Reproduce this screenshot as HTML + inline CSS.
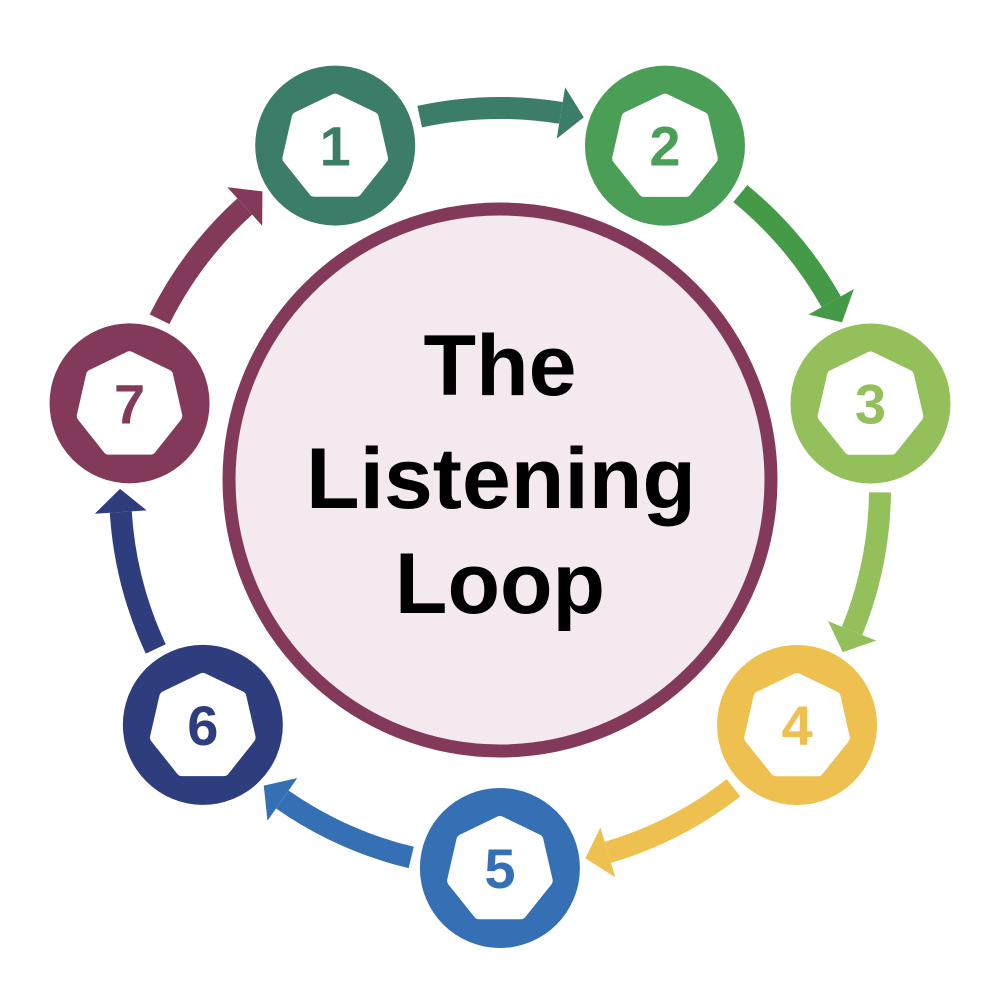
<!DOCTYPE html>
<html><head><meta charset="utf-8"><style>html,body{margin:0;padding:0;background:#fff}svg{display:block}</style></head>
<body>
<svg id="s" width="1000" height="1000" viewBox="0 0 1000 1000" xmlns="http://www.w3.org/2000/svg">
<circle cx="500" cy="480" r="271" fill="#f3e9ef" stroke="#833a5a" stroke-width="13"/>
<g font-family="Liberation Sans, sans-serif" font-weight="bold" font-size="86" text-anchor="middle" fill="#000">
<text x="500" y="395">The</text>
<text x="501" y="508" textLength="390" lengthAdjust="spacingAndGlyphs">Listening</text>
<text x="500" y="613">Loop</text>
</g>
<g id="g"></g>
</svg>
<script>
const cols=["#3b7d69","#4a9e55","#93c05a","#eec050","#3570b5","#2e3d7e","#833a5a"];
const arr=["#3b7d69","#449a47","#93c05a","#eec050","#3570b5","#2e3d7e","#833a5a"];
const cx=500,cy=488,R=380,g=document.getElementById('g');
const rad=d=>d*Math.PI/180;
const P=(a,r)=>[cx+r*Math.cos(rad(a)),cy+r*Math.sin(rad(a))];
let h='';
for(let k=0;k<7;k++){
 const a=-115.7+k*360/7;
 const a0=a+13.5,a1=a+360/7-16.5,at=a+360/7-13;
 const s=P(a0,R),e=P(a1,R);
 h+=`<path d="M${s[0]} ${s[1]} A${R} ${R} 0 0 1 ${e[0]} ${e[1]}" fill="none" stroke="${arr[k]}" stroke-width="22"/>`;
 const b1=P(a1,R-26),b2=P(a1,R+26),t=P(at,R);
 h+=`<polygon points="${b1} ${b2} ${t}" fill="${arr[k]}"/>`;
}
for(let k=0;k<7;k++){
 const a=-115.7+k*360/7;const [x,y]=P(a,R);
 h+=`<circle cx="${x}" cy="${y}" r="80" fill="${cols[k]}"/>`;
 let pts=[];for(let i=0;i<7;i++){const b=rad(-90+i*360/7);pts.push((x+48*Math.cos(b)).toFixed(1)+','+(y+2+48*Math.sin(b)).toFixed(1));}
 h+=`<polygon points="${pts.join(' ')}" fill="#fff" stroke="#fff" stroke-width="12" stroke-linejoin="round"/>`;
 h+=`<text x="${x}" y="${y+20}" text-anchor="middle" font-family="Liberation Sans, sans-serif" font-weight="bold" font-size="56" fill="${cols[k]}">${k+1}</text>`;
}
g.innerHTML=h;
</script>
</body></html>
